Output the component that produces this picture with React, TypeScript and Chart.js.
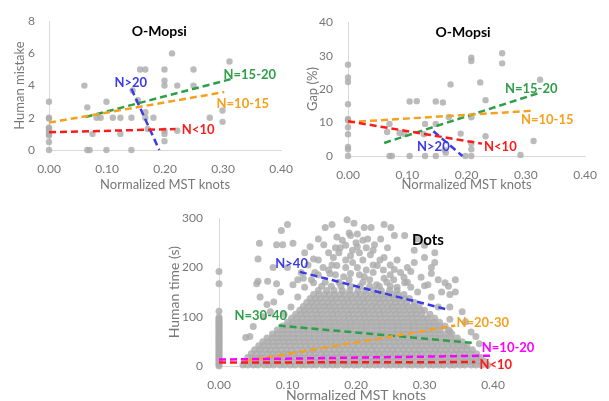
import React, { useEffect, useRef } from "react";
import { Chart, registerables } from "chart.js";
Chart.register(...registerables);

const FONT = "Lato, 'Noto Sans', sans-serif";
const AXIS_GRAY = "#d9d9d9";
const TICK_GRAY = "#777777";
const POINT_FILL = "rgba(172,172,172,0.82)";
const C_RED = "#ff1a1a";
const C_ORANGE = "#f5a01e";
const C_GREEN = "#2e9e48";
const C_BLUE = "#3a3ae8";
const C_MAGENTA = "#ff00ff";

// ---------- Panel 1: O-Mopsi, human mistake ----------
const mistakeX = [0, 0, 0, 0, 0, 0, 0, 0, 0, 0, 0.061, 0.066, 0.066, 0.07, 0.075, 0.082, 0.089, 0.099, 0.099, 0.11, 0.123, 0.123, 0.142, 0.142, 0.144, 0.153, 0.157, 0.166, 0.166, 0.166, 0.18, 0.17, 0.199, 0.199, 0.199, 0.199, 0.199, 0.199, 0.212, 0.221, 0.221, 0.249, 0.249, 0.277, 0.299, 0.299, 0.311];
const mistakeY = [3, 2, 1.95, 1.4, 1.3, 1.2, 1.0, 0.9, 0.5, 0, 4.0, 2.65, 0, 0, 1.0, 2.0, 2.0, 3.0, 0, 2.0, 2.0, 1.0, 2.0, 0, 3.7, 3.1, 5.0, 5.0, 2.35, 2.0, 2.0, 1.3, 5.0, 4.3, 4.0, 1.0, 0.55, 1.2, 6.0, 4.0, 1.2, 5.0, 4.0, 2.0, 2.45, 1.75, 5.5];
const mistakeTrendNames = ["N<10", "N=10-15", "N=15-20", "N>20"];
const mistakeTrendColors = [C_RED, C_ORANGE, C_GREEN, C_BLUE];
const mistakeTrendX = [[0, 0.218], [0, 0.302], [0.063, 0.313], [0.142, 0.19]];
const mistakeTrendY = [[1.1, 1.3], [1.7, 3.6], [2.05, 4.4], [3.8, 0]];
const mistakeLabelX = [0.257, 0.334, 0.346, 0.141];
const mistakeLabelY = [1.25, 2.85, 4.7, 4.17];

// ---------- Panel 2: O-Mopsi, gap ----------
const gapX = [0, 0, 0, 0, 0, 0, 0, 0, 0, 0, 0, 0.066, 0.07, 0.07, 0.074, 0.087, 0.095, 0.104, 0.104, 0.116, 0.128, 0.13, 0.13, 0.148, 0.148, 0.148, 0.16, 0.163, 0.165, 0.173, 0.17, 0.19, 0.198, 0.208, 0.208, 0.208, 0.208, 0.208, 0.208, 0.223, 0.232, 0.232, 0.26, 0.26, 0.291, 0.313, 0.324];
const gapY = [27.3, 23.5, 22.1, 15.5, 11.1, 10.6, 8.6, 6.5, 2.7, 2.0, 0, 7.2, 9.6, 0, 0, 6.9, 6.6, 16.3, 0, 16.4, 6.5, 9.6, 0, 16.3, 9.6, 0, 16.0, 1.8, 1.0, 21.4, 11.6, 6.7, 0, 29.4, 28.4, 11.6, 3.7, 2.0, 0, 22, 16.7, 5.9, 30.7, 27.7, 0.3, 4.5, 22.8];
const gapTrendNames = ["N<10", "N=10-15", "N=15-20", "N>20"];
const gapTrendColors = [C_RED, C_ORANGE, C_GREEN, C_BLUE];
const gapTrendX = [[0, 0.226], [0, 0.309], [0.061, 0.323], [0.144, 0.193]];
const gapTrendY = [[10.4, 3.7], [10.1, 13.5], [3.9, 18.9], [7.4, 0]];
const gapLabelX = [0.257, 0.336, 0.309, 0.144];
const gapLabelY = [2.7, 10.8, 20.2, 2.7];

// ---------- Panel 3: Dots, human time ----------
const dotsZeroY = [0, 3, 6, 9, 12, 15, 18, 21, 24, 27, 30, 33, 36, 39, 42, 45, 48, 51, 54, 57, 60, 63, 66, 69, 72, 75, 78, 81, 84, 87, 90, 93, 96, 99, 111, 167, 192];
const dotsRowY = [2, 9, 17, 25, 33, 41, 49, 57, 65, 73, 81, 89, 97, 105, 113, 121, 129, 137, 145, 153, 162];
const dotsRowX = [
  [0.035, 0.042, 0.05, 0.057, 0.066, 0.073, 0.08, 0.089, 0.096, 0.104, 0.111, 0.12, 0.127, 0.135, 0.142, 0.151, 0.158, 0.166, 0.173, 0.182, 0.189, 0.197, 0.204, 0.213, 0.22, 0.228, 0.235, 0.244, 0.251, 0.259, 0.266, 0.275, 0.282, 0.29, 0.297, 0.306, 0.313, 0.321, 0.328, 0.337, 0.344, 0.352, 0.359, 0.368, 0.375, 0.383, 0.392],
  [0.038, 0.046, 0.054, 0.061, 0.07, 0.077, 0.085, 0.092, 0.1, 0.108, 0.116, 0.123, 0.131, 0.139, 0.147, 0.154, 0.162, 0.17, 0.178, 0.185, 0.193, 0.201, 0.209, 0.216, 0.224, 0.232, 0.24, 0.247, 0.255, 0.263, 0.271, 0.278, 0.286, 0.294, 0.302, 0.309, 0.317, 0.325, 0.333, 0.34, 0.348, 0.356, 0.364, 0.371, 0.38, 0.388],
  [0.042, 0.049, 0.058, 0.065, 0.074, 0.081, 0.089, 0.097, 0.104, 0.113, 0.12, 0.128, 0.136, 0.143, 0.152, 0.159, 0.167, 0.175, 0.182, 0.191, 0.198, 0.206, 0.214, 0.221, 0.23, 0.237, 0.245, 0.253, 0.26, 0.269, 0.276, 0.284, 0.292, 0.299, 0.308, 0.315, 0.323, 0.331, 0.338, 0.347, 0.354, 0.362, 0.37, 0.377, 0.382],
  [0.047, 0.055, 0.062, 0.071, 0.078, 0.086, 0.094, 0.101, 0.11, 0.117, 0.125, 0.133, 0.14, 0.149, 0.156, 0.164, 0.172, 0.179, 0.188, 0.195, 0.203, 0.211, 0.218, 0.227, 0.234, 0.242, 0.25, 0.257, 0.266, 0.273, 0.281, 0.289, 0.296, 0.305, 0.312, 0.32, 0.328, 0.335, 0.344, 0.351, 0.359, 0.367, 0.376],
  [0.052, 0.06, 0.068, 0.075, 0.083, 0.091, 0.099, 0.106, 0.114, 0.122, 0.13, 0.137, 0.145, 0.153, 0.161, 0.168, 0.176, 0.184, 0.192, 0.199, 0.207, 0.215, 0.223, 0.23, 0.238, 0.246, 0.254, 0.261, 0.269, 0.277, 0.285, 0.292, 0.3, 0.308, 0.316, 0.323, 0.331, 0.339, 0.347, 0.354, 0.362, 0.37],
  [0.058, 0.065, 0.073, 0.081, 0.088, 0.096, 0.104, 0.111, 0.119, 0.127, 0.134, 0.142, 0.15, 0.157, 0.165, 0.173, 0.18, 0.188, 0.196, 0.203, 0.211, 0.219, 0.226, 0.234, 0.242, 0.249, 0.257, 0.265, 0.272, 0.28, 0.288, 0.295, 0.303, 0.311, 0.318, 0.326, 0.334, 0.341, 0.349, 0.357, 0.362],
  [0.064, 0.072, 0.079, 0.087, 0.095, 0.102, 0.11, 0.118, 0.125, 0.133, 0.141, 0.148, 0.156, 0.164, 0.171, 0.179, 0.187, 0.194, 0.202, 0.21, 0.217, 0.225, 0.233, 0.24, 0.248, 0.256, 0.263, 0.271, 0.279, 0.286, 0.294, 0.302, 0.309, 0.317, 0.325, 0.332, 0.34, 0.348, 0.355],
  [0.07, 0.078, 0.086, 0.093, 0.101, 0.109, 0.116, 0.124, 0.132, 0.139, 0.147, 0.155, 0.162, 0.17, 0.178, 0.185, 0.193, 0.201, 0.208, 0.216, 0.224, 0.231, 0.239, 0.247, 0.254, 0.262, 0.27, 0.277, 0.285, 0.293, 0.3, 0.308, 0.316, 0.323, 0.331, 0.339, 0.348],
  [0.078, 0.085, 0.093, 0.101, 0.108, 0.116, 0.124, 0.131, 0.139, 0.147, 0.154, 0.162, 0.17, 0.177, 0.185, 0.193, 0.2, 0.208, 0.216, 0.223, 0.231, 0.239, 0.246, 0.254, 0.262, 0.269, 0.277, 0.285, 0.292, 0.3, 0.308, 0.315, 0.323, 0.331, 0.34],
  [0.085, 0.093, 0.1, 0.108, 0.116, 0.123, 0.131, 0.139, 0.146, 0.154, 0.162, 0.169, 0.177, 0.185, 0.192, 0.2, 0.208, 0.215, 0.223, 0.231, 0.238, 0.246, 0.254, 0.261, 0.269, 0.277, 0.284, 0.292, 0.3, 0.307, 0.315, 0.323, 0.335],
  [0.093, 0.1, 0.108, 0.116, 0.123, 0.131, 0.139, 0.146, 0.154, 0.162, 0.169, 0.177, 0.185, 0.192, 0.2, 0.208, 0.215, 0.223, 0.231, 0.238, 0.246, 0.254, 0.261, 0.269, 0.277, 0.284, 0.292, 0.3, 0.307, 0.315, 0.322, 0.33],
  [0.1, 0.107, 0.115, 0.123, 0.13, 0.138, 0.146, 0.153, 0.161, 0.169, 0.176, 0.184, 0.192, 0.199, 0.207, 0.215, 0.222, 0.23, 0.238, 0.245, 0.253, 0.261, 0.268, 0.276, 0.284, 0.291, 0.299, 0.307, 0.314, 0.322],
  [0.106, 0.114, 0.121, 0.129, 0.137, 0.144, 0.152, 0.16, 0.167, 0.175, 0.183, 0.19, 0.198, 0.206, 0.213, 0.221, 0.229, 0.236, 0.244, 0.252, 0.259, 0.267, 0.275, 0.282, 0.29, 0.298, 0.305, 0.315],
  [0.112, 0.12, 0.127, 0.135, 0.143, 0.15, 0.158, 0.166, 0.173, 0.181, 0.189, 0.196, 0.204, 0.212, 0.219, 0.227, 0.235, 0.242, 0.25, 0.258, 0.265, 0.273, 0.281, 0.288, 0.296, 0.308],
  [0.118, 0.125, 0.133, 0.141, 0.148, 0.156, 0.164, 0.171, 0.179, 0.187, 0.194, 0.202, 0.21, 0.217, 0.225, 0.233, 0.24, 0.248, 0.256, 0.263, 0.271, 0.279, 0.286, 0.294, 0.3],
  [0.123, 0.131, 0.138, 0.146, 0.154, 0.161, 0.169, 0.177, 0.184, 0.192, 0.2, 0.207, 0.215, 0.223, 0.23, 0.238, 0.246, 0.253, 0.261, 0.269, 0.276, 0.284, 0.292],
  [0.128, 0.136, 0.143, 0.151, 0.159, 0.166, 0.174, 0.182, 0.189, 0.197, 0.205, 0.212, 0.22, 0.228, 0.235, 0.243, 0.251, 0.258, 0.266, 0.274, 0.285],
  [0.133, 0.141, 0.148, 0.156, 0.164, 0.171, 0.179, 0.187, 0.194, 0.202, 0.21, 0.217, 0.225, 0.233, 0.24, 0.248, 0.256, 0.263, 0.271, 0.278],
  [0.138, 0.146, 0.154, 0.161, 0.169, 0.177, 0.184, 0.192, 0.2, 0.207, 0.215, 0.223, 0.23, 0.238, 0.246, 0.253, 0.261, 0.27],
  [0.145, 0.157, 0.168, 0.18, 0.191, 0.203, 0.214, 0.226, 0.237, 0.249, 0.26],
  [0.15, 0.164, 0.178, 0.192, 0.206, 0.22, 0.234, 0.25],
];
const dotsSparseX = [0.1, 0.091, 0.059, 0.084, 0.093, 0.108, 0.057, 0.079, 0.071, 0.057, 0.084, 0.055, 0.039, 0.155, 0.165, 0.187, 0.197, 0.212, 0.222, 0.241, 0.251, 0.271, 0.256, 0.145, 0.172, 0.192, 0.202, 0.217, 0.236, 0.133, 0.153, 0.177, 0.202, 0.227, 0.246, 0.29, 0.285, 0.3, 0.315, 0.241, 0.26, 0.221, 0.192, 0.167, 0.138, 0.152, 0.172, 0.202, 0.231, 0.256, 0.28, 0.31, 0.33, 0.123, 0.108, 0.138, 0.162, 0.182, 0.192, 0.212, 0.241, 0.271, 0.3, 0.345, 0.335, 0.368, 0.12, 0.09, 0.07, 0.065, 0.05, 0.045, 0.06, 0.165, 0.185, 0.175, 0.195, 0.21, 0.2, 0.18, 0.215, 0.225, 0.14, 0.25, 0.27, 0.26, 0.29, 0.31, 0.32, 0.32, 0.115, 0.105, 0.095, 0.1, 0.08, 0.075, 0.285, 0.3, 0.315, 0.345, 0.355, 0.36, 0.375, 0.38, 0.337, 0.337, 0.337, 0.337,
  0.125, 0.135, 0.145, 0.155, 0.16, 0.17, 0.175, 0.185, 0.19, 0.195, 0.205, 0.21, 0.215, 0.22, 0.225, 0.23, 0.235, 0.24, 0.245, 0.25, 0.255, 0.265, 0.275, 0.28, 0.17, 0.185, 0.205, 0.225, 0.19, 0.21, 0.16, 0.145, 0.13, 0.275, 0.295, 0.305, 0.31, 0.325, 0.115, 0.125];
const dotsSparseY = [287, 275, 249, 246, 246, 249, 217, 200, 172, 172, 167, 167, 58, 281, 287, 297, 290, 281, 281, 287, 281, 265, 265, 258, 262, 265, 268, 258, 258, 242, 246, 240, 242, 246, 240, 258, 210, 220, 210, 220, 215, 226, 224, 220, 217, 200, 204, 200, 204, 196, 192, 188, 169, 178, 165, 169, 188, 181, 188, 181, 178, 169, 163, 175, 162, 69, 190, 150, 125, 100, 80, 60, 140, 205, 215, 230, 235, 215, 250, 255, 240, 205, 190, 185, 180, 160, 150, 140, 120, 175, 140, 120, 105, 200, 130, 110, 235, 245, 230, 150, 110, 90, 60, 45, 70, 95, 120, 145,
  160, 175, 185, 170, 195, 185, 170, 200, 175, 210, 185, 170, 195, 175, 190, 165, 215, 195, 170, 205, 175, 190, 170, 160, 240, 245, 230, 235, 270, 255, 230, 215, 205, 200, 180, 165, 200, 150, 175, 230];
const dotsTrendNames = ["N<10", "N=10-20", "N=20-30", "N=30-40", "N>40"];
const dotsTrendColors = [C_RED, C_MAGENTA, C_ORANGE, C_GREEN, C_BLUE];
const dotsTrendX = [[0, 0.374], [0, 0.398], [0.038, 0.345], [0.087, 0.369], [0.118, 0.335]];
const dotsTrendY = [[7, 8], [13, 21], [10, 82], [82, 47], [191, 114]];
const dotsLabelX = [0.404, 0.422, 0.385, 0.061, 0.106];
const dotsLabelY = [2, 37, 88, 101, 208];

type Panel = {
  left: number; top: number; width: number; height: number;
  areaLeft: number; areaTop: number; areaRight: number; areaBottom: number;
  yMax: number; yStep: number; yTitle: string;
  title: string; titleX: number; titleY: number; titleSize: number; axisTitleSize: number;
  px: number[]; py: number[]; radius: number;
  names: string[]; colors: string[]; tx: number[][]; ty: number[][]; lx: number[]; ly: number[];
  yTickPad: number; yTitlePad: number; xTickPad: number; xTitlePad: number;
};

function buildConfig(p: Panel): any {
  const lineSets = p.names.map((n, i) => ({
    type: "line",
    label: n,
    data: p.tx[i].map((x, k) => ({ x, y: p.ty[i][k] })),
    borderColor: p.colors[i],
    borderWidth: 2.5,
    borderDash: [7, 4],
    pointRadius: 0,
    fill: false,
    order: 1,
    clip: false,
  }));
  const pointSet = {
    type: "scatter",
    label: "points",
    data: p.px.map((x, i) => ({ x, y: p.py[i] })),
    backgroundColor: POINT_FILL,
    pointBackgroundColor: POINT_FILL,
    pointBorderWidth: 0,
    pointBorderColor: "rgba(0,0,0,0)",
    borderWidth: 0,
    pointRadius: p.radius,
    order: 5,
    clip: false,
  };
  const textPlugin = {
    id: "panelText",
    afterDatasetsDraw(chart: any) {
      const { ctx, scales } = chart;
      const xs = scales.x, ys = scales.y;
      ctx.save();
      ctx.textAlign = "center";
      ctx.textBaseline = "middle";
      ctx.font = `bold 13px ${FONT}`;
      p.names.forEach((n, i) => {
        ctx.fillStyle = p.colors[i];
        ctx.fillText(n, xs.getPixelForValue(p.lx[i]), ys.getPixelForValue(p.ly[i]));
      });
      ctx.font = `bold ${p.titleSize}px ${FONT}`;
      ctx.fillStyle = "#000";
      ctx.fillText(p.title, xs.getPixelForValue(p.titleX), ys.getPixelForValue(p.titleY));
      ctx.restore();
    },
  };
  const xHeight = p.top + p.height - p.areaBottom;
  const yWidth = p.areaLeft - p.left;
  return {
    type: "scatter",
    data: { datasets: [...lineSets, pointSet] },
    plugins: [textPlugin],
    options: {
      animation: false,
      responsive: false,
      maintainAspectRatio: false,
      layout: { padding: { left: 0, top: p.areaTop - p.top, right: p.left + p.width - p.areaRight, bottom: 0 } },
      plugins: { legend: { display: false }, tooltip: { enabled: false } },
      scales: {
        x: {
          type: "linear",
          min: 0,
          max: 0.4,
          grid: { display: false, drawTicks: false, tickLength: 0 },
          border: { display: true, color: AXIS_GRAY, width: 1 },
          ticks: {
            stepSize: 0.1,
            padding: p.xTickPad,
            color: TICK_GRAY,
            font: { family: FONT, size: 12 },
            callback: (v: number) => v.toFixed(2),
          },
          title: {
            display: true,
            text: "Normalized MST knots",
            color: TICK_GRAY,
            font: { family: FONT, size: p.axisTitleSize },
            padding: { top: 0, bottom: p.xTitlePad },
          },
          afterFit: (s: any) => { s.height = xHeight; },
        },
        y: {
          type: "linear",
          min: 0,
          max: p.yMax,
          grid: { display: false, drawTicks: false, tickLength: 0 },
          border: { display: true, color: AXIS_GRAY, width: 1 },
          ticks: {
            stepSize: p.yStep,
            padding: p.yTickPad,
            color: TICK_GRAY,
            font: { family: FONT, size: 12 },
          },
          title: {
            display: true,
            text: p.yTitle,
            color: TICK_GRAY,
            font: { family: FONT, size: p.axisTitleSize },
            padding: { top: p.yTitlePad, bottom: 0 },
          },
          afterFit: (s: any) => { s.width = yWidth; },
        },
      },
    },
  };
}

const dotsAllX: number[] = [];
const dotsAllY: number[] = [];
dotsZeroY.forEach((y) => { dotsAllX.push(0); dotsAllY.push(y); });
dotsRowY.forEach((y, r) => dotsRowX[r].forEach((x) => { dotsAllX.push(x); dotsAllY.push(y); }));
dotsSparseX.forEach((x, i) => { dotsAllX.push(x); dotsAllY.push(dotsSparseY[i]); });

const panels: Panel[] = [
  {
    left: 0, top: 0, width: 305, height: 195,
    areaLeft: 49, areaTop: 17, areaRight: 289, areaBottom: 150,
    yMax: 8, yStep: 2, yTitle: "Human mistake",
    title: "O-Mopsi", titleX: 0.19, titleY: 7.35, titleSize: 14, axisTitleSize: 13,
    px: mistakeX, py: mistakeY, radius: 3.2,
    names: mistakeTrendNames, colors: mistakeTrendColors, tx: mistakeTrendX, ty: mistakeTrendY, lx: mistakeLabelX, ly: mistakeLabelY,
    yTickPad: 14, yTitlePad: 12, xTickPad: 12, xTitlePad: 2,
  },
  {
    left: 300, top: 0, width: 309, height: 195,
    areaLeft: 348, areaTop: 20, areaRight: 590, areaBottom: 156,
    yMax: 40, yStep: 10, yTitle: "Gap (%)",
    title: "O-Mopsi", titleX: 0.194, titleY: 37, titleSize: 14, axisTitleSize: 13,
    px: gapX, py: gapY, radius: 3.2,
    names: gapTrendNames, colors: gapTrendColors, tx: gapTrendX, ty: gapTrendY, lx: gapLabelX, ly: gapLabelY,
    yTickPad: 15, yTitlePad: 5, xTickPad: 12, xTitlePad: 2,
  },
  {
    left: 150, top: 195, width: 410, height: 206,
    areaLeft: 219, areaTop: 210, areaRight: 493, areaBottom: 366,
    yMax: 300, yStep: 100, yTitle: "Human time (s)",
    title: "Dots", titleX: 0.305, titleY: 256, titleSize: 15, axisTitleSize: 14,
    px: dotsAllX, py: dotsAllY, radius: 3.5,
    names: dotsTrendNames, colors: dotsTrendColors, tx: dotsTrendX, ty: dotsTrendY, lx: dotsLabelX, ly: dotsLabelY,
    yTickPad: 16, yTitlePad: 16, xTickPad: 12, xTitlePad: -3,
  },
];

function PanelChart({ p }: { p: Panel }) {
  const ref = useRef<HTMLCanvasElement | null>(null);
  useEffect(() => {
    if (!ref.current) return;
    const chart = new Chart(ref.current, buildConfig(p));
    return () => chart.destroy();
  }, [p]);
  return (
    <div style={{ position: "absolute", left: p.left, top: p.top, width: p.width, height: p.height }}>
      <canvas ref={ref} width={p.width} height={p.height} style={{ width: p.width, height: p.height, display: "block" }} />
    </div>
  );
}

export default function App() {
  return (
    <div style={{ position: "absolute", left: 0, top: 0, width: 609, height: 401, overflow: "hidden", background: "#fff" }}>
      {panels.map((p, i) => (
        <PanelChart key={i} p={p} />
      ))}
    </div>
  );
}
